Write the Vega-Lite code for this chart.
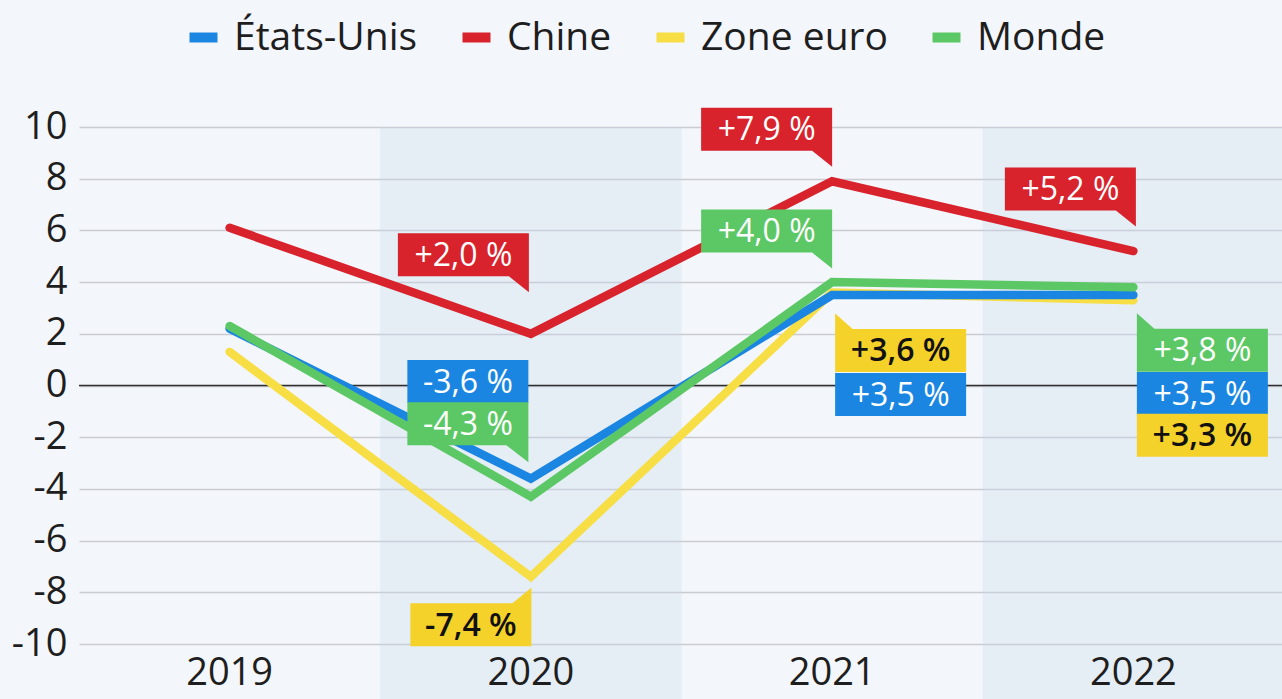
{
  "$schema": "https://vega.github.io/schema/vega-lite/v6.json",
  "width": 1205,
  "height": 517,
  "autosize": "none",
  "padding": {"left": 79, "top": 127, "right": 0, "bottom": 55},
  "background": "#f3f6fa",
  "config": {
    "view": {"stroke": null},
    "font": "Open Sans",
    "axis": {"labelFont": "Open Sans", "labelColor": "#1e1e1e", "labelFontSize": 38, "ticks": false, "domain": false, "title": null},
    "legend": {"labelFont": "Open Sans"}
  },
  "datasets": {
    "croissance": [
      {"annee": "2019", "serie": "Zone euro", "valeur": 1.3},
      {"annee": "2020", "serie": "Zone euro", "valeur": -7.4},
      {"annee": "2021", "serie": "Zone euro", "valeur": 3.6},
      {"annee": "2022", "serie": "Zone euro", "valeur": 3.3},
      {"annee": "2019", "serie": "États-Unis", "valeur": 2.2},
      {"annee": "2020", "serie": "États-Unis", "valeur": -3.6},
      {"annee": "2021", "serie": "États-Unis", "valeur": 3.5},
      {"annee": "2022", "serie": "États-Unis", "valeur": 3.5},
      {"annee": "2019", "serie": "Monde", "valeur": 2.3},
      {"annee": "2020", "serie": "Monde", "valeur": -4.3},
      {"annee": "2021", "serie": "Monde", "valeur": 4.0},
      {"annee": "2022", "serie": "Monde", "valeur": 3.8},
      {"annee": "2019", "serie": "Chine", "valeur": 6.1},
      {"annee": "2020", "serie": "Chine", "valeur": 2.0},
      {"annee": "2021", "serie": "Chine", "valeur": 7.9},
      {"annee": "2022", "serie": "Chine", "valeur": 5.2}
    ],
    "bandes": [{"annee": "2020"}, {"annee": "2022"}]
  },
  "layer": [
    {
      "data": {"name": "bandes"},
      "mark": {"type": "rect", "fill": "#c8d7eb", "opacity": 0.3},
      "encoding": {
        "x": {"field": "annee", "type": "nominal",
              "scale": {"domain": ["2019", "2020", "2021", "2022"], "paddingInner": 0, "paddingOuter": 0},
              "axis": {"labelAngle": 0, "labelPadding": 10, "grid": false}},
        "y": {"datum": 10, "type": "quantitative",
              "scale": {"domain": [-10, 10], "nice": false, "zero": false},
              "axis": {"values": [-10, -8, -6, -4, -2, 0, 2, 4, 6, 8, 10], "labelPadding": 12, "grid": true, "gridColor": "#c9ccd1", "gridWidth": 1.5, "labelExpr": "replace(datum.label, '−', '-')"}},
        "y2": {"datum": -12.2}
      }
    },
    {
      "data": {"values": [{}]},
      "mark": {"type": "rule", "color": "#2e2e2e", "strokeWidth": 1.5},
      "encoding": {"y": {"datum": 0, "type": "quantitative"}}
    },
    {
      "data": {"name": "croissance"},
      "mark": {"type": "line", "strokeWidth": 8.5, "strokeCap": "round", "strokeJoin": "miter"},
      "encoding": {
        "x": {"field": "annee", "type": "nominal"},
        "y": {"field": "valeur", "type": "quantitative"},
        "color": {"field": "serie", "type": "nominal",
                  "scale": {"domain": ["États-Unis", "Chine", "Zone euro", "Monde"], "range": ["#1a86e2", "#d8222c", "#f7de45", "#5cc865"]},
                  "legend": {"orient": "none", "legendX": 105, "legendY": -109, "direction": "horizontal", "columns": 4, "title": null,
                             "symbolType": "stroke", "symbolSize": 784, "symbolStrokeWidth": 10, "labelFontSize": 39, "labelColor": "#1e1e1e",
                             "labelLimit": 0, "labelOffset": 11, "columnPadding": 24, "gridAlign": "none"}}
      }
    },
    {
      "data": {"name": "croissance"},
      "transform": [
        {"filter": "datum.annee != '2019'"},
        {"calculate": "(datum.valeur < 0 ? '-' : '+') + replace(format(abs(datum.valeur), '.1f'), '.', ',') + ' %'", "as": "etiquette"}
      ],
      "encoding": {
        "x": {"field": "annee", "type": "nominal"},
        "y": {"field": "valeur", "type": "quantitative"},
        "fill": {"field": "serie", "type": "nominal",
                 "scale": {"domain": ["États-Unis", "Chine", "Zone euro", "Monde"], "range": ["#1a86e2", "#d8222c", "#f5d22a", "#5cc865"]},
                 "legend": null}
      },
      "layer": [
        {"transform": [{"filter": "datum.annee == '2020' && datum.serie == 'Chine'"}],
         "layer": [
           {"mark": {"type": "point", "shape": "M-0.655,-0.215L0.655,-0.215L0.655,0.375L0.455,0.215L-0.655,0.215Z", "size": 40000, "filled": true, "opacity": 1, "strokeWidth": 0, "xOffset": -67.5, "yOffset": -79}},
           {"mark": {"type": "text", "fontSize": 32, "fontWeight": 500, "align": "center", "baseline": "middle", "xOffset": -67.5, "yOffset": -78},
            "encoding": {"text": {"field": "etiquette"}, "fill": {"condition": {"test": "datum.serie == 'Zone euro'", "value": "#111111"}, "value": "#ffffff"}}}
         ]},
        {"transform": [{"filter": "datum.annee == '2020' && datum.serie == 'États-Unis'"}],
         "layer": [
           {"mark": {"type": "point", "shape": "M-0.605,-0.215L0.605,-0.215L0.605,0.215L-0.605,0.215Z", "size": 40000, "filled": true, "opacity": 1, "strokeWidth": 0, "xOffset": -63, "yOffset": -97}},
           {"mark": {"type": "text", "fontSize": 32, "fontWeight": 500, "align": "center", "baseline": "middle", "xOffset": -63, "yOffset": -96},
            "encoding": {"text": {"field": "etiquette"}, "fill": {"condition": {"test": "datum.serie == 'Zone euro'", "value": "#111111"}, "value": "#ffffff"}}}
         ]},
        {"transform": [{"filter": "datum.annee == '2020' && datum.serie == 'Monde'"}],
         "layer": [
           {"mark": {"type": "point", "shape": "M-0.605,-0.215L0.605,-0.215L0.605,0.385L0.385,0.215L-0.605,0.215Z", "size": 40000, "filled": true, "opacity": 1, "strokeWidth": 0, "xOffset": -63, "yOffset": -73}},
           {"mark": {"type": "text", "fontSize": 32, "fontWeight": 500, "align": "center", "baseline": "middle", "xOffset": -63, "yOffset": -72},
            "encoding": {"text": {"field": "etiquette"}, "fill": {"condition": {"test": "datum.serie == 'Zone euro'", "value": "#111111"}, "value": "#ffffff"}}}
         ]},
        {"transform": [{"filter": "datum.annee == '2020' && datum.serie == 'Zone euro'"}],
         "layer": [
           {"mark": {"type": "point", "shape": "M-0.605,-0.215L0.415,-0.215L0.605,-0.37L0.605,0.215L-0.605,0.215Z", "size": 40000, "filled": true, "opacity": 1, "strokeWidth": 0, "xOffset": -60, "yOffset": 48}},
           {"mark": {"type": "text", "fontSize": 32, "fontWeight": 600, "align": "center", "baseline": "middle", "xOffset": -60, "yOffset": 49},
            "encoding": {"text": {"field": "etiquette"}, "fill": {"condition": {"test": "datum.serie == 'Zone euro'", "value": "#111111"}, "value": "#ffffff"}}}
         ]},
        {"transform": [{"filter": "datum.annee == '2021' && datum.serie == 'Chine'"}],
         "layer": [
           {"mark": {"type": "point", "shape": "M-0.655,-0.215L0.655,-0.215L0.655,0.375L0.455,0.215L-0.655,0.215Z", "size": 40000, "filled": true, "opacity": 1, "strokeWidth": 0, "xOffset": -65.5, "yOffset": -52}},
           {"mark": {"type": "text", "fontSize": 32, "fontWeight": 500, "align": "center", "baseline": "middle", "xOffset": -65.5, "yOffset": -51},
            "encoding": {"text": {"field": "etiquette"}, "fill": {"condition": {"test": "datum.serie == 'Zone euro'", "value": "#111111"}, "value": "#ffffff"}}}
         ]},
        {"transform": [{"filter": "datum.annee == '2021' && datum.serie == 'Monde'"}],
         "layer": [
           {"mark": {"type": "point", "shape": "M-0.655,-0.215L0.655,-0.215L0.655,0.375L0.455,0.215L-0.655,0.215Z", "size": 40000, "filled": true, "opacity": 1, "strokeWidth": 0, "xOffset": -65.5, "yOffset": -51}},
           {"mark": {"type": "text", "fontSize": 32, "fontWeight": 500, "align": "center", "baseline": "middle", "xOffset": -65.5, "yOffset": -50},
            "encoding": {"text": {"field": "etiquette"}, "fill": {"condition": {"test": "datum.serie == 'Zone euro'", "value": "#111111"}, "value": "#ffffff"}}}
         ]},
        {"transform": [{"filter": "datum.annee == '2021' && datum.serie == 'Zone euro'"}],
         "layer": [
           {"mark": {"type": "point", "shape": "M-0.655,-0.37L-0.48,-0.215L0.655,-0.215L0.655,0.215L-0.655,0.215Z", "size": 40000, "filled": true, "opacity": 1, "strokeWidth": 0, "xOffset": 68.5, "yOffset": 58}},
           {"mark": {"type": "text", "fontSize": 32, "fontWeight": 600, "align": "center", "baseline": "middle", "xOffset": 68.5, "yOffset": 59},
            "encoding": {"text": {"field": "etiquette"}, "fill": {"condition": {"test": "datum.serie == 'Zone euro'", "value": "#111111"}, "value": "#ffffff"}}}
         ]},
        {"transform": [{"filter": "datum.annee == '2021' && datum.serie == 'États-Unis'"}],
         "layer": [
           {"mark": {"type": "point", "shape": "M-0.655,-0.215L0.655,-0.215L0.655,0.215L-0.655,0.215Z", "size": 40000, "filled": true, "opacity": 1, "strokeWidth": 0, "xOffset": 68.5, "yOffset": 99.5}},
           {"mark": {"type": "text", "fontSize": 32, "fontWeight": 500, "align": "center", "baseline": "middle", "xOffset": 68.5, "yOffset": 100.5},
            "encoding": {"text": {"field": "etiquette"}, "fill": {"condition": {"test": "datum.serie == 'Zone euro'", "value": "#111111"}, "value": "#ffffff"}}}
         ]},
        {"transform": [{"filter": "datum.annee == '2022' && datum.serie == 'Chine'"}],
         "layer": [
           {"mark": {"type": "point", "shape": "M-0.655,-0.215L0.655,-0.215L0.655,0.375L0.455,0.215L-0.655,0.215Z", "size": 40000, "filled": true, "opacity": 1, "strokeWidth": 0, "xOffset": -63, "yOffset": -62}},
           {"mark": {"type": "text", "fontSize": 32, "fontWeight": 500, "align": "center", "baseline": "middle", "xOffset": -63, "yOffset": -61},
            "encoding": {"text": {"field": "etiquette"}, "fill": {"condition": {"test": "datum.serie == 'Zone euro'", "value": "#111111"}, "value": "#ffffff"}}}
         ]},
        {"transform": [{"filter": "datum.annee == '2022' && datum.serie == 'Monde'"}],
         "layer": [
           {"mark": {"type": "point", "shape": "M-0.655,-0.37L-0.48,-0.215L0.655,-0.215L0.655,0.215L-0.655,0.215Z", "size": 40000, "filled": true, "opacity": 1, "strokeWidth": 0, "xOffset": 69, "yOffset": 63}},
           {"mark": {"type": "text", "fontSize": 32, "fontWeight": 500, "align": "center", "baseline": "middle", "xOffset": 69, "yOffset": 64},
            "encoding": {"text": {"field": "etiquette"}, "fill": {"condition": {"test": "datum.serie == 'Zone euro'", "value": "#111111"}, "value": "#ffffff"}}}
         ]},
        {"transform": [{"filter": "datum.annee == '2022' && datum.serie == 'États-Unis'"}],
         "layer": [
           {"mark": {"type": "point", "shape": "M-0.655,-0.215L0.655,-0.215L0.655,0.215L-0.655,0.215Z", "size": 40000, "filled": true, "opacity": 1, "strokeWidth": 0, "xOffset": 69, "yOffset": 98.5}},
           {"mark": {"type": "text", "fontSize": 32, "fontWeight": 500, "align": "center", "baseline": "middle", "xOffset": 69, "yOffset": 99.5},
            "encoding": {"text": {"field": "etiquette"}, "fill": {"condition": {"test": "datum.serie == 'Zone euro'", "value": "#111111"}, "value": "#ffffff"}}}
         ]},
        {"transform": [{"filter": "datum.annee == '2022' && datum.serie == 'Zone euro'"}],
         "layer": [
           {"mark": {"type": "point", "shape": "M-0.655,-0.215L0.655,-0.215L0.655,0.215L-0.655,0.215Z", "size": 40000, "filled": true, "opacity": 1, "strokeWidth": 0, "xOffset": 69, "yOffset": 135}},
           {"mark": {"type": "text", "fontSize": 32, "fontWeight": 600, "align": "center", "baseline": "middle", "xOffset": 69, "yOffset": 136},
            "encoding": {"text": {"field": "etiquette"}, "fill": {"condition": {"test": "datum.serie == 'Zone euro'", "value": "#111111"}, "value": "#ffffff"}}}
         ]}
      ]
    }
  ]
}
